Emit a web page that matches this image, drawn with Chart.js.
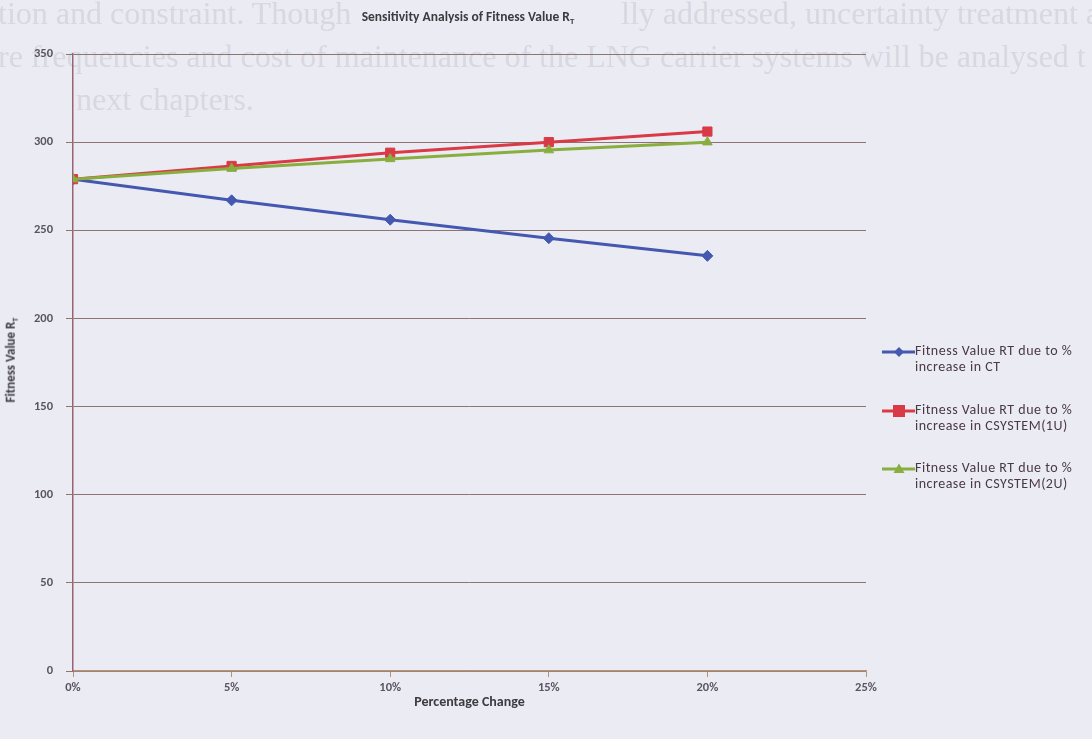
<!DOCTYPE html>
<html>
<head>
<meta charset="utf-8">
<script src="https://cdn.jsdelivr.net/npm/chart.js@4.4.1/dist/chart.umd.min.js"></script>
<style>
  html, body { margin: 0; padding: 0; }
  body {
    width: 1092px; height: 739px; overflow: hidden; position: relative;
    background: #ebecf3;
    font-family: Carlito, Lato, "Open Sans", sans-serif;
  }
  .page-text {
    position: absolute; white-space: nowrap;
    font-family: "Liberation Serif", "DejaVu Serif", serif;
    font-size: 32px; color: rgba(145, 145, 165, 0.24);
  }
  #wrap { position: absolute; left: 0; top: 0; width: 1092px; height: 739px; }
  #title {
    position: absolute; top: 8px; left: 0; width: 936px; text-align: center;
    font-size: 13.5px; font-weight: bold; color: #3d3a40;
  }
  #title sub, #ytitle sub { font-size: 0.65em; vertical-align: -0.3em; }
  #ytitle {
    position: absolute; left: 11px; top: 360px;
    transform: translate(-50%, -50%) rotate(-90deg);
    font-size: 13px; font-weight: bold; color: #3d3a40; white-space: nowrap;
  }
  #legend { position: absolute; left: 882px; top: 343px; }
  .lg-item { position: relative; height: 58.5px; }
  .lg-item svg { position: absolute; left: 0; top: 1px; }
  .lg-text {
    position: absolute; left: 33px; top: 0; white-space: nowrap;
    font-size: 14px; letter-spacing: 0.5px; line-height: 16px; color: #4a3845;
  }
</style>
</head>
<body>
<div class="page-text" style="left:-2px; top:-5px;">tion and constraint. Though</div>
<div class="page-text" style="right:-8px; top:-5px;">lly addressed, uncertainty treatment a</div>
<div class="page-text" style="left:-2px; top:38px;">re frequencies and cost of maintenance of the LNG carrier systems will be analysed t</div>
<div class="page-text" style="left:76px; top:81px;">next chapters.</div>

<div id="wrap"><canvas id="chart" width="1092" height="739"></canvas></div>
<div id="title">Sensitivity Analysis of Fitness Value R<sub>T</sub></div>
<div id="ytitle">Fitness Value R<sub>T</sub></div>
<div id="legend"></div>

<script>
// Percentage change applied to each cost input (x values, %)
const changePct = [0, 5, 10, 15, 20];
// Fitness value R_T for each sensitivity case
const rtIncreaseCT = [279, 267, 256, 245.5, 235.5];
const rtIncreaseCsys1U = [279, 286.5, 294, 300, 306];
const rtIncreaseCsys2U = [279, 285, 290.5, 295.5, 300];
// Series names, split over two legend lines
const seriesNames = [
  ['Fitness Value RT due to %', 'increase in CT'],
  ['Fitness Value RT due to %', 'increase in CSYSTEM(1U)'],
  ['Fitness Value RT due to %', 'increase in CSYSTEM(2U)']
];
// Axis ranges
const xTickMax = 25, xTickStep = 5;
const yTickMax = 350, yTickStep = 50;

const colors = ['#4458b0', '#d93a45', '#88ae3f'];
const markers = ['rectRot', 'rect', 'triangle'];
const markerSize = [5.5, 6.5, 5.5];
const seriesValues = [rtIncreaseCT, rtIncreaseCsys1U, rtIncreaseCsys2U];
const drawOrder = [2, 1, 0];

const datasets = seriesValues.map((vals, i) => ({
  label: seriesNames[i].join(' '),
  data: changePct.map((x, k) => ({ x: x, y: vals[k] })),
  borderColor: colors[i],
  backgroundColor: colors[i],
  borderWidth: 3,
  pointStyle: markers[i],
  pointRadius: markerSize[i],
  pointHoverRadius: markerSize[i],
  pointBorderWidth: 1,
  tension: 0,
  order: drawOrder[i]
}));

const tickFont = { family: 'Carlito, Lato, sans-serif', size: 12.5, weight: 'bold' };

const chart = new Chart(document.getElementById('chart'), {
  type: 'line',
  data: { datasets: datasets },
  options: {
    responsive: false,
    animation: false,
    layout: { padding: { left: 0, top: 54, right: 226, bottom: 28 } },
    plugins: { legend: { display: false }, tooltip: { enabled: false } },
    scales: {
      x: {
        type: 'linear', min: 0, max: xTickMax,
        ticks: { stepSize: xTickStep, color: '#5a5560', font: tickFont, padding: 3,
                 callback: v => v + '%' },
        grid: { drawOnChartArea: false, drawTicks: true, tickLength: 6, color: '#b49278' },
        border: { color: '#b49278', width: 1.5 },
        title: { display: true, text: 'Percentage Change', color: '#3d3a40',
                 font: { family: 'Carlito, Lato, sans-serif', size: 14, weight: 'bold' },
                 padding: { top: 4, bottom: 0 } },
        afterFit: s => { s.height = 40; }
      },
      y: {
        min: 0, max: yTickMax,
        ticks: { stepSize: yTickStep, color: '#5a5560', font: tickFont, padding: 13 },
        grid: { color: '#8f7272', lineWidth: 1, tickLength: 7 },
        border: { color: '#9a6272', width: 1.5 },
        afterFit: s => { s.width = 73; }
      }
    }
  }
});

// Legend built from the chart's datasets
const legend = document.getElementById('legend');
const icon = (style, color) => {
  let m = '';
  if (style === 'rectRot') m = `<polygon points="17,3 22,8 17,13 12,8" fill="${color}"/>`;
  else if (style === 'rect') m = `<rect x="11" y="2" width="12" height="12" fill="${color}"/>`;
  else m = `<polygon points="17,2.5 22.5,12 11.5,12" fill="${color}"/>`;
  return `<svg width="34" height="16"><line x1="0" y1="8" x2="33" y2="8" stroke="${color}" stroke-width="3"/>${m}</svg>`;
};
chart.data.datasets.forEach((ds, i) => {
  const item = document.createElement('div');
  item.className = 'lg-item';
  item.innerHTML = icon(ds.pointStyle, ds.borderColor) +
    `<div class="lg-text">${seriesNames[i].join('<br>')}</div>`;
  legend.appendChild(item);
});
</script>
</body>
</html>
